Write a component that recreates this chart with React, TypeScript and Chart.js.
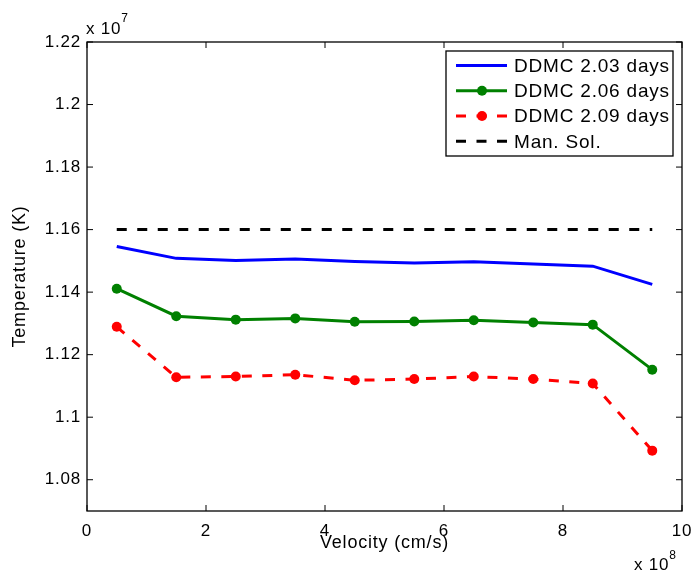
import React, { useEffect, useRef } from "react";
import { Chart, registerables } from "chart.js";

Chart.register(...registerables);

const velocities = [0.5e8, 1.5e8, 2.5e8, 3.5e8, 4.5e8, 5.5e8, 6.5e8, 7.5e8, 8.5e8, 9.5e8];
const ddmc203 = [1.1546e7, 1.1508e7, 1.1501e7, 1.1506e7, 1.1498e7, 1.1493e7, 1.1497e7, 1.149e7, 1.1483e7, 1.1425e7];
const ddmc206 = [1.1411e7, 1.1323e7, 1.1312e7, 1.1316e7, 1.1305e7, 1.1306e7, 1.131e7, 1.1303e7, 1.1296e7, 1.1152e7];
const ddmc209 = [1.1289e7, 1.1128e7, 1.113e7, 1.1136e7, 1.1118e7, 1.1122e7, 1.113e7, 1.1122e7, 1.1108e7, 1.0893e7];
const manSol = [1.16e7, 1.16e7, 1.16e7, 1.16e7, 1.16e7, 1.16e7, 1.16e7, 1.16e7, 1.16e7, 1.16e7];

const seriesLabels = ["DDMC 2.03 days", "DDMC 2.06 days", "DDMC 2.09 days", "Man. Sol."];
const xTicks = [0, 2e8, 4e8, 6e8, 8e8, 10e8];
const yTicks = [1.08e7, 1.1e7, 1.12e7, 1.14e7, 1.16e7, 1.18e7, 1.2e7, 1.22e7];
const xMin = 0;
const xMax = 10e8;
const yMin = 1.07e7;
const yMax = 1.22e7;
const xExponent = "8";
const yExponent = "7";

const FONT = "'Liberation Sans', Arial, Helvetica, sans-serif";
const DASH = [10, 10.5];
const SPACING = "0.8px";

const fmt = (v: number) => String(parseFloat(v.toFixed(4)));

const pts = (ys: number[]) => velocities.map((x, i) => ({ x, y: ys[i] }));

const spacingPlugin = {
  id: "spacing",
  beforeUpdate(chart: any) {
    chart.ctx.letterSpacing = SPACING;
  },
  beforeDraw(chart: any) {
    chart.ctx.letterSpacing = SPACING;
  },
};

const decorPlugin = {
  id: "decor",
  afterDraw(chart: any) {
    const ctx = chart.ctx as CanvasRenderingContext2D;
    const { left, right, top, bottom } = chart.chartArea;
    const xs = chart.scales.x;
    const ys = chart.scales.y;
    ctx.save();
    ctx.letterSpacing = SPACING;
    // box
    ctx.strokeStyle = "#000";
    ctx.lineWidth = 1.3;
    ctx.setLineDash([]);
    ctx.strokeRect(left, top, right - left, bottom - top);
    // inward ticks
    const tl = 6;
    ctx.lineWidth = 1;
    ctx.beginPath();
    xTicks.forEach((v) => {
      const p = xs.getPixelForValue(v);
      ctx.moveTo(p, bottom);
      ctx.lineTo(p, bottom - tl);
      ctx.moveTo(p, top);
      ctx.lineTo(p, top + tl);
    });
    yTicks.forEach((v) => {
      const p = ys.getPixelForValue(v);
      ctx.moveTo(left, p);
      ctx.lineTo(left + tl, p);
      ctx.moveTo(right, p);
      ctx.lineTo(right - tl, p);
    });
    ctx.stroke();

    // exponents
    ctx.fillStyle = "#000";
    ctx.textAlign = "left";
    ctx.textBaseline = "alphabetic";
    ctx.font = `17px ${FONT}`;
    const base = "x 10";
    ctx.fillText(base, left - 1, 34);
    let w = ctx.measureText(base).width;
    ctx.font = `12px ${FONT}`;
    ctx.fillText(yExponent, left - 1 + w, 22);
    ctx.font = `17px ${FONT}`;
    const bx = 634;
    ctx.fillText(base, bx, 570);
    w = ctx.measureText(base).width;
    ctx.font = `12px ${FONT}`;
    ctx.fillText(xExponent, bx + w, 559);

    // legend
    const lx = 446;
    const ly = 51;
    const lw = 227;
    const lh = 105;
    ctx.fillStyle = "#fff";
    ctx.fillRect(lx, ly, lw, lh);
    ctx.strokeStyle = "#000";
    ctx.lineWidth = 1.3;
    ctx.strokeRect(lx, ly, lw, lh);
    const rows = [65.5, 90.8, 116, 141.3];
    chart.data.datasets.forEach((ds: any, i: number) => {
      const y = rows[i];
      ctx.strokeStyle = ds.borderColor;
      ctx.lineWidth = ds.borderWidth;
      ctx.setLineDash(ds.borderDash || []);
      ctx.beginPath();
      ctx.moveTo(456, y);
      ctx.lineTo(507, y);
      ctx.stroke();
      ctx.setLineDash([]);
      if (ds.pointRadius > 0) {
        ctx.fillStyle = ds.pointBackgroundColor;
        ctx.beginPath();
        ctx.arc(482, y, ds.pointRadius, 0, Math.PI * 2);
        ctx.fill();
      }
      ctx.fillStyle = "#000";
      ctx.font = `19px ${FONT}`;
      ctx.textBaseline = "middle";
      ctx.fillText(ds.label, 514, y + 1);
    });
    ctx.restore();
  },
};

export default function App() {
  const ref = useRef<HTMLCanvasElement | null>(null);
  useEffect(() => {
    if (!ref.current) return;
    const mk = (label: string, data: number[], color: string, radius: number, dash: number[]) => ({
      label,
      data: pts(data),
      borderColor: color,
      backgroundColor: color,
      pointBackgroundColor: color,
      pointBorderColor: color,
      pointBorderWidth: 0,
      pointRadius: radius,
      borderWidth: 3,
      borderDash: dash,
      tension: 0,
      fill: false,
    });
    const chart = new Chart(ref.current, {
      type: "line",
      data: {
        datasets: [
          mk(seriesLabels[0], ddmc203, "#0000ff", 0, []),
          mk(seriesLabels[1], ddmc206, "#008000", 5, []),
          mk(seriesLabels[2], ddmc209, "#ff0000", 5, DASH),
          mk(seriesLabels[3], manSol, "#000000", 0, DASH),
        ] as any,
      },
      options: {
        animation: false,
        responsive: true,
        maintainAspectRatio: false,
        events: [],
        layout: { padding: { left: 0, top: 42, right: 12, bottom: 0 } },
        plugins: { legend: { display: false }, tooltip: { enabled: false } },
        scales: {
          x: {
            type: "linear",
            min: xMin,
            max: xMax,
            grid: { display: false, drawTicks: false },
            border: { display: false },
            ticks: {
              color: "#000",
              font: { family: FONT, size: 17 },
              padding: 10,
              maxRotation: 0,
              callback: (v: any) => fmt(Number(v) / 1e8),
            },
            title: {
              display: true,
              text: "Velocity (cm/s)",
              color: "#000",
              font: { family: FONT, size: 18 },
              padding: { top: 0, bottom: 19 },
            },
            afterBuildTicks: (s: any) => {
              s.ticks = xTicks.map((value) => ({ value }));
            },
            afterFit: (s: any) => {
              s.height = 62;
              s.paddingLeft = 0;
              s.paddingRight = 0;
            },
          },
          y: {
            type: "linear",
            min: yMin,
            max: yMax,
            grid: { display: false, drawTicks: false },
            border: { display: false },
            ticks: {
              color: "#000",
              font: { family: FONT, size: 17 },
              padding: 6,
              callback: (v: any) => fmt(Number(v) / 1e7),
            },
            title: {
              display: true,
              text: "Temperature (K)",
              color: "#000",
              font: { family: FONT, size: 18 },
              padding: { top: 9, bottom: 0 },
            },
            afterBuildTicks: (s: any) => {
              s.ticks = yTicks.map((value) => ({ value }));
            },
            afterFit: (s: any) => {
              s.width = 87;
              s.paddingTop = 0;
              s.paddingBottom = 0;
            },
          },
        },
      } as any,
      plugins: [spacingPlugin, decorPlugin],
    });
    return () => chart.destroy();
  }, []);
  return (
    <div style={{ position: "absolute", left: 0, top: 0, width: 694, height: 573, background: "#fff" }}>
      <canvas ref={ref} />
    </div>
  );
}
